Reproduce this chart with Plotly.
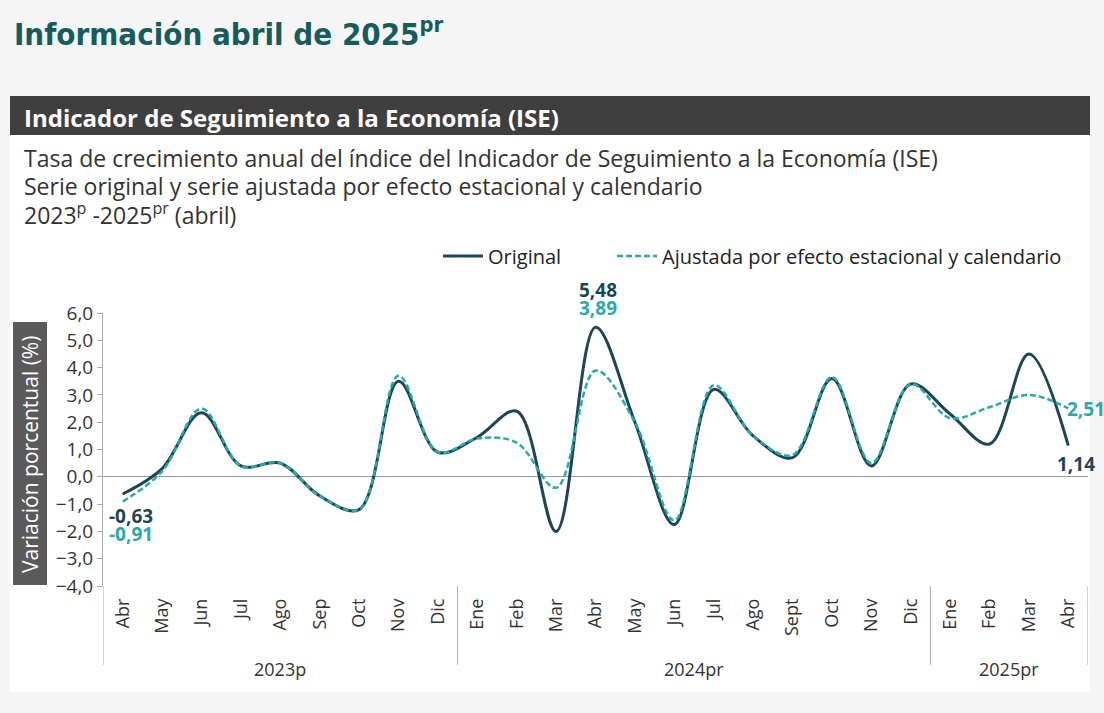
import plotly.graph_objects as go

# ISE annual growth, Abr 2023 - Abr 2025
years = ["2023p", "2024pr", "2025pr"]
year_months = [9, 12, 4]
months = ["Abr", "May", "Jun", "Jul", "Ago", "Sep", "Oct", "Nov", "Dic",
          "Ene", "Feb", "Mar", "Abr", "May", "Jun", "Jul", "Ago", "Sept", "Oct", "Nov", "Dic",
          "Ene", "Feb", "Mar", "Abr"]
original = [-0.63, 0.30, 2.35, 0.40, 0.50, -0.70, -1.20, 3.50, 0.90,
            1.45, 2.40, -2.00, 5.48, 2.00, -1.75, 3.20, 1.50, 0.70, 3.60, 0.40, 3.40,
            2.30, 1.20, 4.50, 1.14]
ajustada = [-0.91, 0.20, 2.50, 0.40, 0.50, -0.70, -1.20, 3.70, 0.90,
            1.40, 1.25, -0.40, 3.89, 2.00, -1.60, 3.35, 1.50, 0.80, 3.65, 0.50, 3.40,
            2.15, 2.55, 3.00, 2.51]

W, H = 1104, 713
C_ORIG = "#1e4556"
C_AJUS = "#2aa9a8"
FONT = "Open Sans"


def px(x):
    return x / W


def py(y):
    return 1 - y / H


idx = list(range(len(months)))

fig = go.Figure()
fig.add_trace(go.Scatter(
    x=idx, y=original, name="Original", mode="lines", legend="legend",
    line=dict(color=C_ORIG, width=3, shape="spline", smoothing=1),
))
fig.add_trace(go.Scatter(
    x=idx, y=ajustada, name="Ajustada por efecto estacional y calendario", mode="lines",
    legend="legend2",
    line=dict(color=C_AJUS, width=2.5, dash="6px,3px", shape="spline", smoothing=1),
))


# data labels
def lab(i, val, color, xs, ys, anchor="center"):
    fig.add_annotation(
        x=i, y=val, xref="x", yref="y", text=f"{val:.2f}".replace(".", ","),
        showarrow=False, xshift=xs, yshift=ys, xanchor=anchor,
        font=dict(family=FONT, size=19, color=color, weight="bold"),
    )


lab(0, original[0], C_ORIG, 8, -22)
lab(0, ajustada[0], C_AJUS, 8, -32)
lab(12, original[12], C_ORIG, 2, 37)
lab(12, ajustada[12], C_AJUS, 2, 63)
lab(24, ajustada[24], C_AJUS, -3, -1, "left")
lab(24, original[24], C_ORIG, 8, -18)

shapes = [
    # white card
    dict(type="rect", xref="paper", yref="paper", x0=px(10), x1=px(1090), y0=py(692), y1=py(135),
         fillcolor="white", line=dict(width=0), layer="below"),
    # header bar
    dict(type="rect", xref="paper", yref="paper", x0=px(10), x1=px(1090), y0=py(135), y1=py(96),
         fillcolor="#3f3f3f", line=dict(width=0), layer="below"),
    # y-title box
    dict(type="rect", xref="paper", yref="paper", x0=px(13), x1=px(47), y0=py(585), y1=py(322),
         fillcolor="#5a5a5a", line=dict(width=0), layer="below"),
]

# year group dividers and labels
start = 0
bounds = [-0.5]
for yr, n in zip(years, year_months):
    fig.add_annotation(x=start + (n - 1) / 2, y=py(669), xref="x", yref="paper",
                       text=yr, showarrow=False, yanchor="middle",
                       font=dict(family=FONT, size=18, color="#333333"))
    start += n
    bounds.append(start - 0.5)
for b in bounds:
    shapes.append(dict(type="line", xref="x", yref="paper", x0=b, x1=b, y0=py(665), y1=py(586),
                       line=dict(color="#aaaaaa", width=1)))

subtitle = [
    "Tasa de crecimiento anual del índice del Indicador de Seguimiento a la Economía (ISE)",
    "Serie original y serie ajustada por efecto estacional y calendario",
    "2023<sup>p</sup> -2025<sup>pr</sup> (abril)",
]

annotations = [
    dict(x=px(12), y=py(54), xref="paper", yref="paper", xanchor="left", yanchor="bottom",
         text="Información abril de 2025<sup>pr</sup>", showarrow=False,
         font=dict(family="DejaVu Sans Condensed, Liberation Sans Narrow, Roboto", size=31,
                   color="#175c5d", weight="bold")),
    dict(x=px(22), y=py(117), xref="paper", yref="paper", xanchor="left", yanchor="middle",
         text="Indicador de Seguimiento a la Economía (ISE)", showarrow=False,
         font=dict(family=FONT, size=24, color="white", weight="bold")),
    dict(x=px(30), y=py(455), xref="paper", yref="paper", xanchor="center", yanchor="middle",
         text="Variación porcentual (%)", textangle=-90, showarrow=False,
         font=dict(family=FONT, size=21, color="white", weight="normal")),
]
for k, line in enumerate(subtitle):
    annotations.append(dict(x=px(22), y=py(158 + 28 * k), xref="paper", yref="paper",
                            xanchor="left", yanchor="middle", text=line, showarrow=False,
                            font=dict(family=FONT, size=23, color="#333333", weight="normal")))

leg = dict(orientation="h", xanchor="left", yanchor="middle", itemwidth=40,
           font=dict(family=FONT, size=20, color="#222222"), bgcolor="rgba(0,0,0,0)")

fig.update_layout(
    width=W, height=H,
    margin=dict(l=0, r=0, t=0, b=0, autoexpand=False),
    paper_bgcolor="#f5f5f5", plot_bgcolor="rgba(0,0,0,0)",
    separators=",.",
    font=dict(family=FONT, color="#333333"),
    shapes=shapes,
    showlegend=True,
    legend=dict(leg, x=px(438), y=py(256)),
    legend2=dict(leg, x=px(612), y=py(256)),
    xaxis=dict(domain=[px(103), px(1088)], range=[-0.5, 24.5], automargin=False,
               tickmode="array", tickvals=idx, ticktext=months, ticklabelstandoff=8,
               tickangle=-90, tickfont=dict(size=18, color="#333333"),
               showline=False, showgrid=False, zeroline=False, ticks=""),
    yaxis=dict(domain=[py(586), py(313)], range=[-4, 6], dtick=1, tickformat=".1f",
               automargin=False,
               showline=True, linecolor="#aaaaaa", ticks="outside", ticklen=5, tickcolor="#aaaaaa",
               tickfont=dict(size=19, color="#333333"), showgrid=False,
               zeroline=True, zerolinecolor="#999999", zerolinewidth=1),
)
for a in annotations:
    fig.add_annotation(a)

fig.write_html("out.html", config={"displayModeBar": False},
               post_script="document.body.style.margin='0';")
